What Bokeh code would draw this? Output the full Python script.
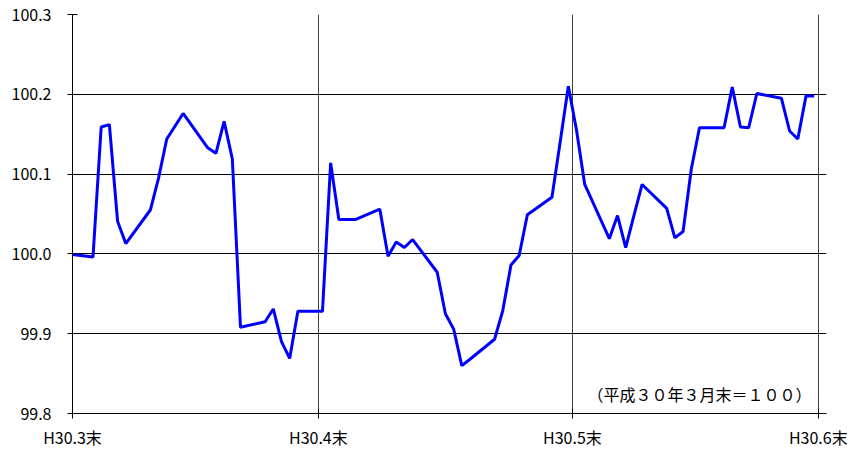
import pandas as pd
from bokeh.plotting import figure
from bokeh.models import Range1d, FixedTicker, Label, PrintfTickFormatter
from bokeh.embed import file_html
from bokeh.resources import INLINE

# ---- data ----
dates = [
    "2018-03-30", "2018-04-02", "2018-04-03", "2018-04-04", "2018-04-05", "2018-04-06",
    "2018-04-09", "2018-04-10", "2018-04-11", "2018-04-12", "2018-04-13",
    "2018-04-16", "2018-04-17", "2018-04-18", "2018-04-19", "2018-04-20",
    "2018-04-23", "2018-04-24", "2018-04-25", "2018-04-26", "2018-04-27",
    "2018-04-30", "2018-05-01", "2018-05-02", "2018-05-03", "2018-05-04",
    "2018-05-07", "2018-05-08", "2018-05-09", "2018-05-10", "2018-05-11",
    "2018-05-14", "2018-05-15", "2018-05-16", "2018-05-17", "2018-05-18",
    "2018-05-21", "2018-05-22", "2018-05-23", "2018-05-24", "2018-05-25",
    "2018-05-28", "2018-05-29", "2018-05-30", "2018-05-31", "2018-06-01",
    "2018-06-04", "2018-06-05", "2018-06-06", "2018-06-07", "2018-06-08",
    "2018-06-11", "2018-06-12", "2018-06-13", "2018-06-14", "2018-06-15",
    "2018-06-18", "2018-06-19", "2018-06-20", "2018-06-21", "2018-06-22",
    "2018-06-25", "2018-06-26", "2018-06-27", "2018-06-28", "2018-06-29",
]
values = [
    100.000, 99.996, 100.159, 100.162, 100.041, 100.013,
    100.055, 100.095, 100.144, 100.160, 100.176,
    100.133, 100.126, 100.166, 100.119, 99.908,
    99.915, 99.931, 99.890, 99.869, 99.928,
    99.928, 100.114, 100.043, 100.043, 100.043,
    100.056, 99.997, 100.015, 100.008, 100.018,
    99.977, 99.925, 99.906, 99.860, 99.868,
    99.893, 99.929, 99.986, 99.998, 100.049,
    100.071, 100.140, 100.210, 100.155, 100.087,
    100.019, 100.048, 100.008, 100.048, 100.087,
    100.057, 100.020, 100.028, 100.106, 100.158,
    100.158, 100.209, 100.159, 100.158, 100.201,
    100.195, 100.154, 100.144, 100.198, 100.198,
]
tick_dates = ["2018-03-31", "2018-04-30", "2018-05-31", "2018-06-30"]
tick_labels = ["H30.3末", "H30.4末", "H30.5末", "H30.6末"]
y_ticks = [99.8, 99.9, 100.0, 100.1, 100.2, 100.3]
note = "（平成３０年３月末＝１００）"

# ---- build ----
def ms(ts):
    return pd.Timestamp(ts).value / 1e6

HALF_DAY = 12 * 3600 * 1000
# each business day is drawn in the middle of its one-day slot
x = [ms(d) + HALF_DAY for d in dates]
tick_ms = [ms(d) for d in tick_dates]

p = figure(width=850, height=452, x_axis_type="datetime",
           output_backend="svg", toolbar_location=None,
           x_range=Range1d(ms("2018-03-31"), ms("2018-07-01")),
           y_range=Range1d(y_ticks[0], y_ticks[-1]),
           min_border_left=72, min_border_right=24,
           min_border_top=14, min_border_bottom=39)
p.outline_line_color = None
p.background_fill_color = "white"
p.border_fill_color = "white"

p.line(x, values, line_color="#0000FF", line_width=3)

font_lat = "Noto Sans CJK JP"

p.xaxis.ticker = FixedTicker(ticks=tick_ms)
p.xaxis.major_label_overrides = {t: lab for t, lab in zip(tick_ms, tick_labels)}
p.yaxis.ticker = FixedTicker(ticks=y_ticks)
p.yaxis.formatter = PrintfTickFormatter(format="%.1f")

for ax in (p.xaxis[0], p.yaxis[0]):
    ax.axis_line_color = "black"
    ax.axis_line_width = 1
    ax.major_tick_line_color = "black"
    ax.major_tick_in = 5
    ax.major_tick_out = 5
    ax.minor_tick_line_color = None
    ax.major_label_text_font = font_lat
    ax.major_label_text_font_size = "16px"
    ax.major_label_text_color = "black"
p.yaxis.major_label_standoff = 16
p.xaxis.major_label_standoff = 6

p.ygrid.grid_line_color = "black"
p.ygrid.grid_line_width = 1
p.xgrid.grid_line_color = "#404040"
p.xgrid.grid_line_width = 1

p.add_layout(Label(x=ms("2018-06-15") + HALF_DAY, y=99.825, text=note,
                   text_font="Noto Sans CJK JP", text_font_size="16px",
                   text_color="black", text_align="center", text_baseline="middle"))

open("out.html", "w").write(file_html(p, INLINE))
